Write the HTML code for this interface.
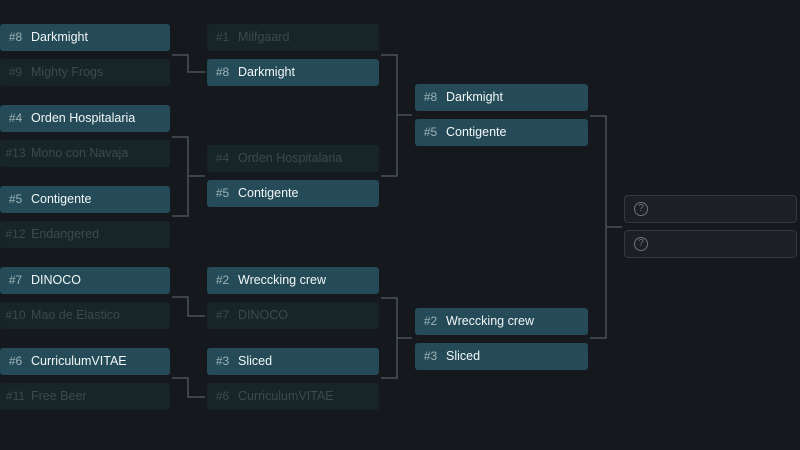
<!DOCTYPE html><html><head><style>
body{margin:0;width:800px;height:450px;background:#15191d;position:relative;overflow:hidden;font-family:"Liberation Sans",sans-serif}
.b{position:absolute;height:27px;border-radius:3px;background:#244b57;color:#f2f6f7;font-size:12.5px;line-height:27px;box-sizing:border-box}
.b span{display:inline-block;width:31px;text-align:center;color:#9db3b8;font-size:12px}
.b.l{background:#172428;color:#3b4a4e}.b.l span{color:#3b4a4e}
.q{position:absolute;left:624px;width:173px;height:28px;border:1px solid #34393e;border-radius:4px;background:#1c2024;box-sizing:border-box}
.q i{position:absolute;left:9px;top:6px;width:12px;height:12px;border:1px solid #6d7378;border-radius:50%;color:#6d7378;font-size:10px;line-height:12px;text-align:center;font-style:normal}
svg{position:absolute;left:0;top:0}
</style></head><body>
<svg width="800" height="450" fill="none" stroke="#4a5258" stroke-width="1.5">
<path d="M172 55H188V72H205"/>
<path d="M172 137H188V216H172M188 176H205"/>
<path d="M172 297H188V316H205"/>
<path d="M172 378H188V397H205"/>
<path d="M381 55H397V176H381M397 115H412"/>
<path d="M381 298H397V378H381M397 338H412"/>
<path d="M590 116H606V338H590M606 227H622"/>
</svg>
<div class="b" style="left:0;top:24px;width:170px"><span>#8</span>Darkmight</div>
<div class="b l" style="left:0;top:59px;width:170px"><span>#9</span>Mighty Frogs</div>
<div class="b" style="left:0;top:105px;width:170px"><span>#4</span>Orden Hospitalaria</div>
<div class="b l" style="left:0;top:140px;width:170px"><span>#13</span>Mono con Navaja</div>
<div class="b" style="left:0;top:186px;width:170px"><span>#5</span>Contigente</div>
<div class="b l" style="left:0;top:221px;width:170px"><span>#12</span>Endangered</div>
<div class="b" style="left:0;top:267px;width:170px"><span>#7</span>DINOCO</div>
<div class="b l" style="left:0;top:302px;width:170px"><span>#10</span>Mao de Elastico</div>
<div class="b" style="left:0;top:348px;width:170px"><span>#6</span>CurriculumVITAE</div>
<div class="b l" style="left:0;top:383px;width:170px"><span>#11</span>Free Beer</div>
<div class="b l" style="left:207px;top:24px;width:172px"><span>#1</span>Milfgaard</div>
<div class="b" style="left:207px;top:59px;width:172px"><span>#8</span>Darkmight</div>
<div class="b l" style="left:207px;top:145px;width:172px"><span>#4</span>Orden Hospitalaria</div>
<div class="b" style="left:207px;top:180px;width:172px"><span>#5</span>Contigente</div>
<div class="b" style="left:207px;top:267px;width:172px"><span>#2</span>Wreccking crew</div>
<div class="b l" style="left:207px;top:302px;width:172px"><span>#7</span>DINOCO</div>
<div class="b" style="left:207px;top:348px;width:172px"><span>#3</span>Sliced</div>
<div class="b l" style="left:207px;top:383px;width:172px"><span>#6</span>CurriculumVITAE</div>
<div class="b" style="left:415px;top:84px;width:173px"><span>#8</span>Darkmight</div>
<div class="b" style="left:415px;top:119px;width:173px"><span>#5</span>Contigente</div>
<div class="b" style="left:415px;top:308px;width:173px"><span>#2</span>Wreccking crew</div>
<div class="b" style="left:415px;top:343px;width:173px"><span>#3</span>Sliced</div>
<div class="q" style="top:195px"><i>?</i></div>
<div class="q" style="top:230px"><i>?</i></div>
</body></html>
